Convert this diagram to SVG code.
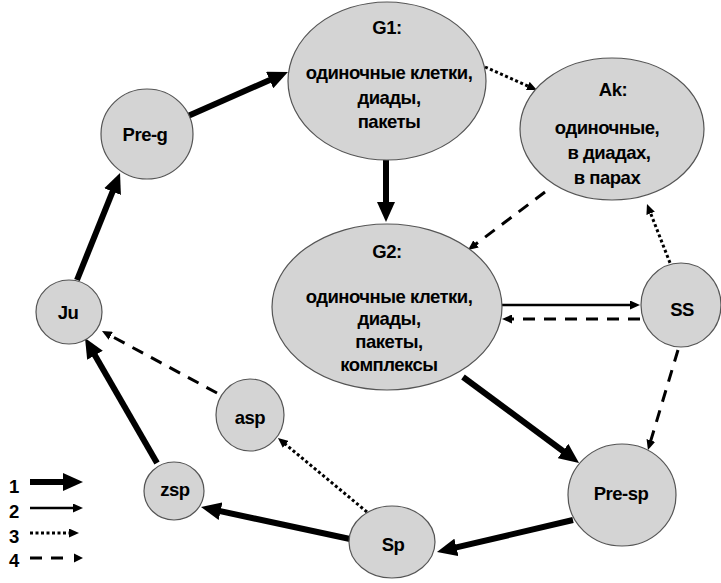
<svg xmlns="http://www.w3.org/2000/svg" width="721" height="583" viewBox="0 0 721 583">
<style>
.n ellipse{fill:#d4d4d4;stroke:#555;stroke-width:1.2}
text{font-family:"Liberation Sans",Arial,sans-serif;font-weight:bold;font-size:18.5px;letter-spacing:-0.5px;fill:#000;text-anchor:middle}
.t1{stroke:#000;stroke-width:6;fill:none}
.t2{stroke:#000;stroke-width:2.5;fill:none}
.t3{stroke:#000;stroke-width:3;fill:none;stroke-dasharray:3 2.5}
.t4{stroke:#000;stroke-width:3;fill:none;stroke-dasharray:12 9}
.lg{text-anchor:start}
</style>
<defs>
<marker id="mb" markerUnits="userSpaceOnUse" markerWidth="20" markerHeight="18" refX="10" refY="9" orient="auto"><path d="M0,0 L20,9 L0,18 z" fill="#000"/></marker>
<marker id="ms" markerUnits="userSpaceOnUse" markerWidth="10" markerHeight="9" refX="5" refY="4.5" orient="auto"><path d="M0,0 L10,4.5 L0,9 z" fill="#000"/></marker>
</defs>
<rect width="721" height="583" fill="#fff"/>
<g id="connectors">
<line class="t1" x1="188" y1="116" x2="278.8" y2="76" marker-end="url(#mb)"/>
<line class="t1" x1="386" y1="160" x2="386" y2="212" marker-end="url(#mb)"/>
<line class="t1" x1="77" y1="280" x2="116.3" y2="182.3" marker-end="url(#mb)"/>
<line class="t1" x1="157" y1="463" x2="90" y2="346.7" marker-end="url(#mb)"/>
<line class="t1" x1="350" y1="539" x2="210.8" y2="509.1" marker-end="url(#mb)"/>
<line class="t1" x1="573" y1="520" x2="446.7" y2="549.7" marker-end="url(#mb)"/>
<line class="t1" x1="463" y1="377" x2="571" y2="457" marker-end="url(#mb)"/>
<line class="t2" x1="502" y1="305" x2="635" y2="305" marker-end="url(#ms)"/>
<line class="t4" x1="640" y1="319" x2="507" y2="319" marker-end="url(#ms)"/>
<line class="t3" x1="485" y1="67" x2="532.4" y2="88" marker-end="url(#ms)"/>
<line class="t4" x1="545" y1="192" x2="472" y2="247" marker-end="url(#ms)"/>
<line class="t3" x1="672" y1="268" x2="648.8" y2="208.7" marker-end="url(#ms)"/>
<line class="t4" x1="678" y1="350" x2="649.4" y2="445.2" marker-end="url(#ms)"/>
<line class="t3" x1="367" y1="512" x2="281.8" y2="441.2" marker-end="url(#ms)"/>
<line class="t4" x1="217" y1="393" x2="106.4" y2="333.4" marker-end="url(#ms)"/>
</g>
<g id="G1" class="n"><ellipse cx="387" cy="81" rx="99" ry="79"/>
<text x="387" y="34">G1:</text><text x="389" y="79">одиночные клетки,</text><text x="389" y="104">диады,</text><text x="389" y="128">пакеты</text></g>
<g id="Ak" class="n"><ellipse cx="612" cy="129" rx="92" ry="71"/>
<text x="613" y="96">Ak:</text><text x="607" y="134">одиночные,</text><text x="609" y="159">в диадах,</text><text x="607" y="184">в парах</text></g>
<g id="G2" class="n"><ellipse cx="387" cy="307" rx="115" ry="83"/>
<text x="387" y="258">G2:</text><text x="389" y="303">одиночные клетки,</text><text x="389" y="325">диады,</text><text x="389" y="348">пакеты,</text><text x="389" y="371">комплексы</text></g>
<g id="SS" class="n"><ellipse cx="681" cy="305" rx="40" ry="42"/><text x="682" y="316">SS</text></g>
<g id="Pre-g" class="n"><ellipse cx="147" cy="134" rx="46" ry="45"/><text x="145" y="141">Pre-g</text></g>
<g id="Ju" class="n"><ellipse cx="69" cy="312" rx="33" ry="32"/><text x="68" y="319">Ju</text></g>
<g id="asp" class="n"><ellipse cx="250" cy="415" rx="34" ry="36"/><text x="250" y="424">asp</text></g>
<g id="zsp" class="n"><ellipse cx="174" cy="491" rx="30" ry="29"/><text x="175" y="496">zsp</text></g>
<g id="Sp" class="n"><ellipse cx="392" cy="542" rx="43" ry="36"/><text x="393" y="551">Sp</text></g>
<g id="Pre-sp" class="n"><ellipse cx="622" cy="495" rx="54" ry="51"/><text x="621" y="500">Pre-sp</text></g>
<g id="legend">
<text class="lg" x="9" y="493">1</text>
<line class="t1" x1="30" y1="482" x2="73" y2="482" marker-end="url(#mb)"/>
<text class="lg" x="9" y="518">2</text>
<line class="t2" x1="30" y1="508" x2="78" y2="508" marker-end="url(#ms)"/>
<text class="lg" x="9" y="543">3</text>
<line class="t3" x1="30" y1="533" x2="74" y2="533" marker-end="url(#ms)"/>
<text class="lg" x="9" y="567">4</text>
<line class="t4" x1="30" y1="558" x2="66" y2="558"/>
<path d="M74,553.5 L83,558 L74,562.5 z" fill="#000"/>
</g>
</svg>
